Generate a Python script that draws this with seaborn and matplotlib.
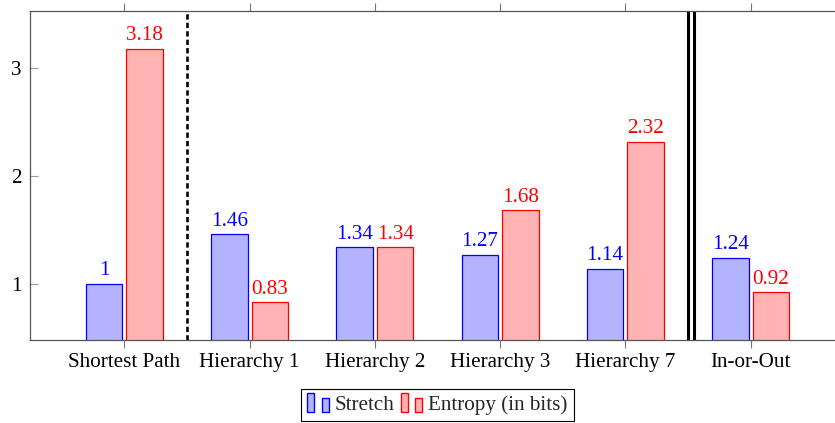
import numpy as np
import pandas as pd
import seaborn as sns
import matplotlib.pyplot as plt
from matplotlib.patches import Rectangle
from matplotlib.legend_handler import HandlerBase

# Données
categories = ["Shortest Path", "Hierarchy 1", "Hierarchy 2", "Hierarchy 3", "Hierarchy 7", "In-or-Out"]
stretch = [1, 1.46, 1.34, 1.27, 1.14, 1.24]
entropy = [3.18, 0.83, 1.34, 1.68, 2.32, 0.92]
series = ["Stretch", "Entropy (in bits)"]

df = pd.DataFrame({
    "category": categories * 2,
    "value": stretch + entropy,
    "series": [series[0]] * len(categories) + [series[1]] * len(categories),
})

fills = ["#b3b3ff", "#ffb3b3"]
edges = ["#0000ff", "#ff0000"]
fs = 15.2

sns.set_theme(style="white")
plt.rcParams["font.family"] = ["Liberation Serif", "DejaVu Serif"]

fig = plt.figure(figsize=(8.35, 4.23), dpi=100)
# l'axe déborde à droite, comme dans l'original (bord droit coupé)
ax = fig.add_axes([30 / 835, 83 / 423, 815 / 835, 329 / 423])

sns.barplot(data=df, x="category", y="value", hue="series", palette=fills,
            saturation=1, width=0.648, gap=0.1, ax=ax, legend=False)

# Contours et étiquettes des barres
for cont, vals, ec in zip(ax.containers, [stretch, entropy], edges):
    for bar in cont:
        bar.set_edgecolor(ec)
        bar.set_linewidth(0.9)
    ax.bar_label(cont, labels=[f"{v:g}" for v in vals], padding=2.5,
                 color=ec, fontsize=fs)

# Séparateurs verticaux
ax.axvline(0.5, color="black", lw=1.9, ls=(0, (2.0, 1.2)))
ax.axvline(4.5, color="black", lw=2.2)
ax.axvline(4.548, color="black", lw=2.2)

ax.set_xlim(-0.753, 5.753)
ax.set_ylim(0.4775, 3.5325)
ax.set_yticks([1, 2, 3])
ax.set_xlabel("")
ax.set_ylabel("")

for sp in ax.spines.values():
    sp.set_color("#555555")
    sp.set_linewidth(0.9)
ax.spines["right"].set_visible(False)

ax.tick_params(axis="x", direction="out", length=6, width=0.8, color="#777777",
               top=True, bottom=True, labelsize=fs, pad=3, labelcolor="black")
ax.tick_params(axis="y", direction="in", length=6, width=0.8, color="#999999",
               left=True, right=False, labelsize=fs, pad=6, labelcolor="black")


class TwoBars(HandlerBase):
    def create_artists(self, legend, orig_handle, xdescent, ydescent,
                       width, height, fontsize, trans):
        fc = orig_handle.get_facecolor()
        ec = orig_handle.get_edgecolor()
        x0, y0 = -xdescent, -ydescent - 0.1 * height
        bw = width * 0.3
        r1 = Rectangle((x0, y0), bw, height * 1.25, fc=fc, ec=ec, lw=1.0, transform=trans)
        r2 = Rectangle((x0 + width * 0.62, y0), bw, height * 0.95, fc=fc, ec=ec, lw=1.0, transform=trans)
        return [r1, r2]


handles = [Rectangle((0, 0), 1, 1, fc=f, ec=e) for f, e in zip(fills, edges)]
leg = ax.legend(handles=handles, labels=series, handler_map={Rectangle: TwoBars()},
                ncol=2, loc="upper center", bbox_to_anchor=(0.5, -0.149),
                frameon=True, fancybox=False, framealpha=1, edgecolor="black",
                fontsize=fs, handlelength=1.1, handletextpad=0.2,
                columnspacing=0.3, borderpad=0.3, borderaxespad=0)
leg.get_frame().set_linewidth(0.8)

fig.savefig("out.png", dpi=100)
